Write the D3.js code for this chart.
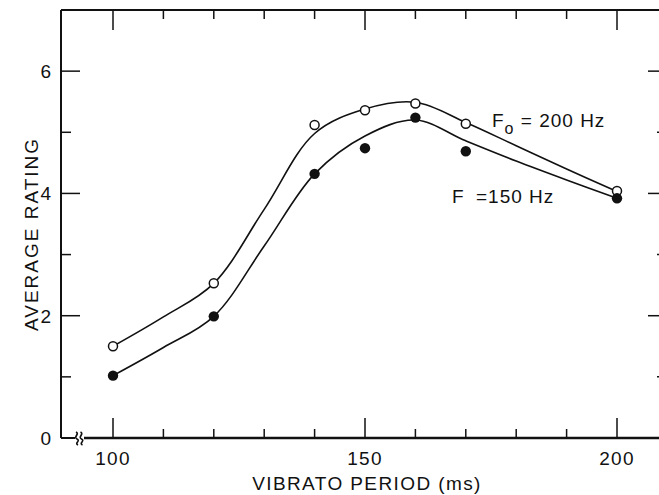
<!DOCTYPE html>
<html>
<head>
<meta charset="utf-8">
<style>
  body { margin: 0; background: #fff; }
  svg { display: block; }
</style>
</head>
<body>
<svg width="659" height="495"></svg>
<script src="https://cdn.jsdelivr.net/npm/d3@7"></script>
<script>

// measured points (vibrato period in ms, average rating)
var periods = [100, 120, 140, 150, 160, 170, 200];
var rating200 = [1.50, 2.53, 5.12, 5.36, 5.47, 5.14, 4.04];
var rating150 = [1.02, 1.99, 4.32, 4.74, 5.24, 4.69, 3.92];

// smooth fitted curves, every 10 ms
var fitPeriods = [100, 110, 120, 130, 140, 150, 160, 170, 180, 190, 200];
var fit200 = [1.50, 1.98, 2.53, 3.74, 4.98, 5.38, 5.49, 5.16, 4.78, 4.40, 4.03];
var fit150 = [1.02, 1.48, 1.99, 3.14, 4.32, 4.94, 5.20, 4.86, 4.53, 4.22, 3.92];

var xTicks = d3.range(100, 201, 10);
var xLabels = [100, 150, 200];
var yTicks = [0, 1, 2, 3, 4, 5, 6];
var yLabels = [0, 2, 4, 6];

var svg = d3.select("svg"),
    frame = {left: 61, top: 10, right: 667, bottom: 438},
    font = "'Liberation Sans', 'DejaVu Sans', sans-serif";

var x = d3.scaleLinear().domain([100, 200]).range([113, 617]);
var y = d3.scaleLinear().domain([0, 7]).range([438, 10]);

var g = svg.append("g").attr("stroke", "#111").attr("fill", "none");

// frame, with a break in the bottom axis
g.append("line").attr("x1", frame.left).attr("x2", frame.left)
    .attr("y1", frame.top).attr("y2", frame.bottom).attr("stroke-width", 2);
g.append("line").attr("x1", frame.left).attr("x2", frame.right)
    .attr("y1", frame.top).attr("y2", frame.top).attr("stroke-width", 2);
g.append("line").attr("x1", frame.right).attr("x2", frame.right)
    .attr("y1", frame.top).attr("y2", frame.bottom).attr("stroke-width", 2);
g.append("line").attr("x1", frame.left).attr("x2", 75)
    .attr("y1", frame.bottom).attr("y2", frame.bottom).attr("stroke-width", 2);
g.append("line").attr("x1", 84).attr("x2", frame.right)
    .attr("y1", frame.bottom).attr("y2", frame.bottom).attr("stroke-width", 2.5);

// break squiggles
[77, 81.5].forEach(function(cx) {
  g.append("path")
      .attr("d", "M" + (cx - 1) + "," + 432 + " C" + (cx + 3) + "," + 434 + " " + (cx - 4) + "," + 437 + " " + cx + "," + 439
        + " C" + (cx + 4) + "," + 441 + " " + (cx - 3) + "," + 443 + " " + (cx + 1) + "," + 445)
      .attr("stroke-width", 1.6);
});

// x ticks, bottom and top
xTicks.forEach(function(t) {
  var len = xLabels.indexOf(t) >= 0 ? 20 : 9;
  g.append("line").attr("x1", x(t)).attr("x2", x(t))
      .attr("y1", frame.bottom).attr("y2", frame.bottom - len).attr("stroke-width", 1.5);
  g.append("line").attr("x1", x(t)).attr("x2", x(t))
      .attr("y1", frame.top).attr("y2", frame.top + len).attr("stroke-width", 1.5);
});

// y ticks, left and right
yTicks.forEach(function(t) {
  if (t == 0) return;
  var len = yLabels.indexOf(t) >= 0 ? 19 : 10;
  g.append("line").attr("y1", y(t)).attr("y2", y(t))
      .attr("x1", frame.left).attr("x2", frame.left + len).attr("stroke-width", 1.5);
  g.append("line").attr("y1", y(t)).attr("y2", y(t))
      .attr("x1", frame.right).attr("x2", frame.right - len).attr("stroke-width", 1.5);
});

// tick labels
var labels = svg.append("g").attr("font-family", font).attr("font-size", 19).attr("fill", "#111");

labels.selectAll(".xl")
  .data(xLabels)
  .enter().append("text")
    .attr("x", function(d) { return x(d); })
    .attr("y", 465)
    .attr("text-anchor", "middle")
    .attr("letter-spacing", 1.2)
    .text(function(d) { return d; });

labels.selectAll(".yl")
  .data(yLabels)
  .enter().append("text")
    .attr("x", 51)
    .attr("y", function(d) { return y(d) + 7; })
    .attr("text-anchor", "end")
    .text(function(d) { return d; });

// axis titles
labels.append("text")
    .attr("x", 367)
    .attr("y", 490)
    .attr("text-anchor", "middle")
    .attr("letter-spacing", 1.4)
    .text("VIBRATO PERIOD (ms)");

labels.append("text")
    .attr("transform", "translate(38,234) rotate(-90)")
    .attr("text-anchor", "middle")
    .attr("letter-spacing", 2)
    .text("AVERAGE RATING");

// fitted curves
var line = d3.line()
    .x(function(d) { return x(d[0]); })
    .y(function(d) { return y(d[1]); })
    .curve(d3.curveCatmullRom.alpha(0.5));

g.append("path")
    .datum(d3.zip(fitPeriods, fit200))
    .attr("stroke-width", 1.6)
    .attr("d", line);

g.append("path")
    .datum(d3.zip(fitPeriods, fit150))
    .attr("stroke-width", 1.6)
    .attr("d", line);

// points
svg.append("g").selectAll("circle")
  .data(d3.zip(periods, rating200))
  .enter().append("circle")
    .attr("cx", function(d) { return x(d[0]); })
    .attr("cy", function(d) { return y(d[1]); })
    .attr("r", 4.5)
    .attr("fill", "#fff")
    .attr("stroke", "#111")
    .attr("stroke-width", 1.5);

svg.append("g").selectAll("circle")
  .data(d3.zip(periods, rating150))
  .enter().append("circle")
    .attr("cx", function(d) { return x(d[0]); })
    .attr("cy", function(d) { return y(d[1]); })
    .attr("r", 5.2)
    .attr("fill", "#111");

// series labels
var l1 = labels.append("text").attr("x", 492).attr("y", 127).attr("letter-spacing", 1);
l1.append("tspan").text("F");
l1.append("tspan").attr("dy", 7).attr("font-size", 16).text("o");
l1.append("tspan").attr("dy", -7).text(" = 200 Hz");

var l2 = labels.append("text").attr("x", 452).attr("y", 203).attr("letter-spacing", 1);
l2.append("tspan").text("F");
l2.append("tspan").attr("x", 476).text("=150 Hz");

</script>
</body>
</html>
